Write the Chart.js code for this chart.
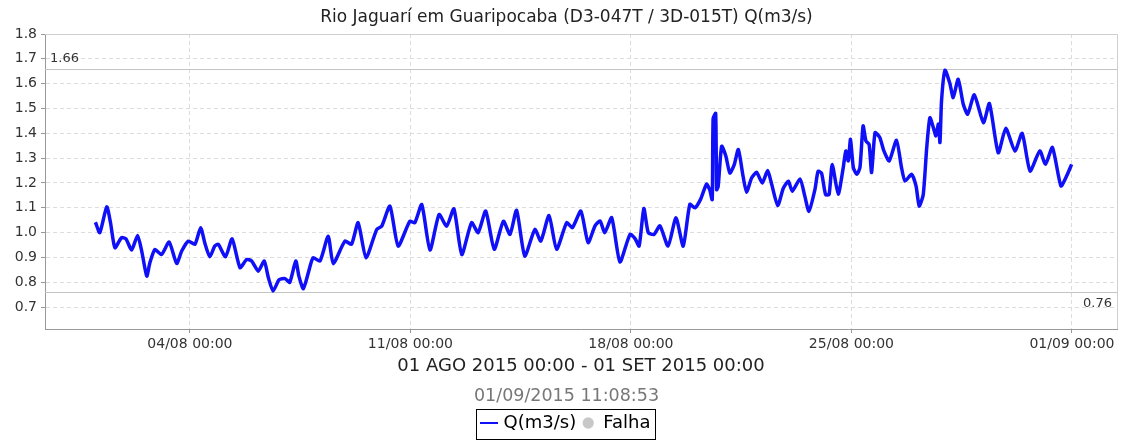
<!DOCTYPE html>
<html><head><meta charset="utf-8">
<script src="https://cdn.jsdelivr.net/npm/chart.js@4/dist/chart.umd.min.js"></script>
<style>html,body{margin:0;padding:0;background:#fff;}#wrap{width:1133px;height:442px;}</style>
</head><body><div id="wrap"><canvas id="c" width="1133" height="442"></canvas></div>
<script>
const chartTitle = 'Rio Jaguarí em Guaripocaba (D3-047T / 3D-015T) Q(m3/s)';
const periodLabel = '01 AGO 2015 00:00 - 01 SET 2015 00:00';
const stampLabel = '01/09/2015 11:08:53';
const seriesName = 'Q(m3/s)';
const failName = 'Falha';
// time in days since 01/08/2015 00:00
const dayOffsets = [
 0.00,0.14,0.36,0.48,0.62,0.83,0.97,1.15,1.34,1.47,1.63,1.73,1.89,2.10,2.34,2.58,2.74,2.95,3.16,3.34,
 3.48,3.63,3.79,3.90,4.13,4.34,4.59,4.80,4.96,5.17,5.36,5.49,5.64,5.83,6.02,6.17,6.36,6.46,6.60,6.76,
 6.91,7.13,7.39,7.55,7.92,8.13,8.34,8.59,8.93,9.09,9.35,9.61,9.98,10.14,10.36,10.62,10.91,11.15,11.38,11.63,
 11.94,12.15,12.39,12.66,12.95,13.16,13.37,13.63,13.95,14.14,14.40,14.64,14.96,15.14,15.41,15.64,15.86,16.02,16.17,16.39,
 16.65,16.97,17.13,17.26,17.41,17.55,17.73,17.92,18.18,18.43,18.66,18.87,19.03,19.21,19.40,19.50,19.58,19.61,19.69,19.72,
 19.77,19.88,20.01,20.14,20.28,20.41,20.56,20.67,20.83,20.99,21.17,21.34,21.47,21.66,21.84,22.00,22.12,22.37,22.52,22.65,
 22.84,22.94,23.05,23.18,23.29,23.39,23.58,23.74,23.82,23.90,23.97,24.06,24.17,24.27,24.37,24.46,24.56,24.64,24.75,24.90,
 25.03,25.20,25.43,25.59,25.70,25.91,26.05,26.15,26.28,26.39,26.49,26.60,26.68,26.76,26.81,26.86,26.97,27.13,27.23,27.39,
 27.55,27.69,27.90,28.19,28.38,28.66,28.90,29.19,29.42,29.67,29.98,30.16,30.38,30.65,30.83,30.99
];
const flowValues = [
 1.042,1.000,1.104,1.040,0.939,0.980,0.975,0.930,0.989,0.926,0.825,0.879,0.932,0.912,0.962,0.876,0.926,0.966,0.953,1.020,
 0.955,0.903,0.946,0.953,0.903,0.975,0.859,0.892,0.886,0.845,0.886,0.819,0.765,0.810,0.815,0.800,0.886,0.825,0.774,0.839,
 0.899,0.886,0.986,0.875,0.966,0.953,1.040,0.899,1.013,1.026,1.107,0.946,1.046,1.040,1.113,0.930,1.073,1.026,1.096,0.912,
 1.040,1.000,1.087,0.933,1.046,0.993,1.090,0.906,1.013,0.966,1.069,0.933,1.040,1.020,1.087,0.960,1.027,1.047,1.000,1.060,
 0.882,0.993,0.976,0.946,1.097,1.000,0.993,1.027,0.946,1.060,0.946,1.114,1.100,1.134,1.195,1.173,1.133,1.460,1.480,1.173,
 1.187,1.348,1.310,1.240,1.274,1.335,1.227,1.163,1.220,1.243,1.200,1.250,1.194,1.109,1.180,1.207,1.167,1.216,1.147,1.086,
 1.173,1.247,1.240,1.153,1.153,1.274,1.155,1.262,1.329,1.289,1.376,1.262,1.235,1.262,1.430,1.369,1.356,1.242,1.403,1.383,
 1.329,1.289,1.372,1.262,1.208,1.235,1.188,1.107,1.154,1.343,1.463,1.423,1.390,1.437,1.363,1.531,1.654,1.598,1.544,1.618,
 1.517,1.477,1.555,1.443,1.520,1.322,1.420,1.329,1.400,1.248,1.329,1.275,1.343,1.188,1.228,1.275
];
const xTickDays = [3, 10, 17, 24, 31];
const xTickLabels = ['04/08 00:00', '11/08 00:00', '18/08 00:00', '25/08 00:00', '01/09 00:00'];
const yTickValues = [0.7, 0.8, 0.9, 1.0, 1.1, 1.2, 1.3, 1.4, 1.5, 1.6, 1.7, 1.8];
const maxFlow = 1.66;
const minFlow = 0.76;

const blue = '#1010f8';
const points = dayOffsets.map((d, i) => ({x: d, y: flowValues[i]}));

const lineGlyph = document.createElement('canvas');
lineGlyph.width = 18; lineGlyph.height = 2;
(function(){ const g = lineGlyph.getContext('2d'); g.fillStyle = blue; g.fillRect(0, 0, 18, 2); })();

const framePlugin = {
  id: 'frame',
  beforeDatasetsDraw(chart) {
    const {ctx, chartArea: a, scales: {y}} = chart;
    ctx.save();
    ctx.strokeStyle = '#cfcfcf'; ctx.lineWidth = 1;
    ctx.beginPath();
    ctx.moveTo(a.left, a.top + 0.5); ctx.lineTo(a.right + 0.5, a.top + 0.5); ctx.lineTo(a.right + 0.5, a.bottom);
    ctx.stroke();
    // reference lines for max and min
    ctx.strokeStyle = '#c4c4c4'; ctx.lineWidth = 1.2;
    [maxFlow, minFlow].forEach(v => {
      const py = Math.round(y.getPixelForValue(v)) + 0.5;
      ctx.beginPath(); ctx.moveTo(a.left, py); ctx.lineTo(a.right, py); ctx.stroke();
    });
    ctx.fillStyle = '#333'; ctx.font = '13px "DejaVu Sans"';
    ctx.textBaseline = 'bottom'; ctx.textAlign = 'left';
    ctx.fillText(maxFlow.toFixed(2), a.left + 5, y.getPixelForValue(maxFlow) - 4);
    ctx.textBaseline = 'top'; ctx.textAlign = 'right';
    ctx.fillText(minFlow.toFixed(2), a.right - 5, y.getPixelForValue(minFlow) + 5);
    ctx.restore();
  },
  afterDraw(chart) {
    const lg = chart.legend;
    if (!lg || !lg.legendHitBoxes || !lg.legendHitBoxes.length) return;
    const hb = lg.legendHitBoxes;
    const first = hb[0], last = hb[hb.length - 1];
    const ctx = chart.ctx;
    ctx.save();
    ctx.strokeStyle = '#000'; ctx.lineWidth = 1;
    const l = Math.round(first.left - 7) + 0.5;
    const r = Math.round(last.left + last.width + 5) + 0.5;
    const t = Math.round(first.top - 5) + 0.5;
    const b = Math.round(first.top + first.height + 7) + 0.5;
    ctx.strokeRect(l, t, r - l, b - t);
    ctx.restore();
  }
};

new Chart(document.getElementById('c'), {
  type: 'line',
  data: {
    datasets: [{
      label: seriesName,
      data: points,
      borderColor: blue,
      backgroundColor: blue,
      borderWidth: 3.5,
      pointRadius: 0,
      tension: 0.2,
      fill: false
    }]
  },
  options: {
    responsive: false,
    animation: false,
    devicePixelRatio: 1,
    layout: {padding: {left: 0, right: 0, top: 0, bottom: 0}},
    font: {family: '"DejaVu Sans", sans-serif'},
    plugins: {
      title: {
        display: true, text: chartTitle, color: '#222',
        font: {size: 17, weight: 'normal', family: '"DejaVu Sans"'},
        padding: {top: 7, bottom: 6.6}
      },
      subtitle: {
        display: true, position: 'bottom', text: stampLabel, color: '#777',
        font: {size: 17.5, weight: 'normal', family: '"DejaVu Sans"'},
        padding: {top: 8.5, bottom: 1.5}
      },
      legend: {
        display: true, position: 'bottom', weight: 2000,
        labels: {
          usePointStyle: true, boxWidth: 12, boxHeight: 8, padding: 6,
          color: '#111', font: {size: 18, family: '"DejaVu Sans"'},
          generateLabels: () => [
            {text: seriesName, pointStyle: lineGlyph, fillStyle: blue, strokeStyle: blue, lineWidth: 0, hidden: false, datasetIndex: 0},
            {text: failName, pointStyle: 'circle', fillStyle: '#c8c8c8', strokeStyle: '#c8c8c8', lineWidth: 0, hidden: false}
          ]
        }
      },
      tooltip: {enabled: false}
    },
    scales: {
      x: {
        type: 'linear', min: -1.6, max: 32.43,
        afterBuildTicks: s => { s.ticks = xTickDays.map(v => ({value: v})); },
        afterFit: s => { s.height = 48; },
        ticks: {
          autoSkip: false, maxRotation: 0, padding: 3, color: '#333',
          font: {size: 14, family: '"DejaVu Sans"'},
          callback: v => { const i = xTickDays.indexOf(v); return i >= 0 ? xTickLabels[i] : ''; }
        },
        grid: {color: '#dcdcdc', tickLength: 4, tickColor: '#999'},
        border: {color: '#999', dash: [4, 3]},
        title: {display: true, text: periodLabel, color: '#222', font: {size: 18, family: '"DejaVu Sans"'}, padding: {top: 0, bottom: 0}}
      },
      y: {
        type: 'linear', min: 0.612, max: 1.8,
        afterBuildTicks: s => { s.ticks = yTickValues.map(v => ({value: v})); },
        afterFit: s => { s.width = 45; },
        ticks: {padding: 4, color: '#333', font: {size: 14, family: '"DejaVu Sans"'}, callback: v => Number(v).toFixed(1)},
        grid: {color: '#dcdcdc', tickLength: 4, tickColor: '#999'},
        border: {color: '#999', dash: [4, 3]}
      },
      yr: {
        position: 'right', display: true,
        afterFit: s => { s.width = 16; },
        ticks: {display: false}, grid: {display: false}, border: {display: false}
      }
    }
  },
  plugins: [framePlugin]
});
</script></body></html>
